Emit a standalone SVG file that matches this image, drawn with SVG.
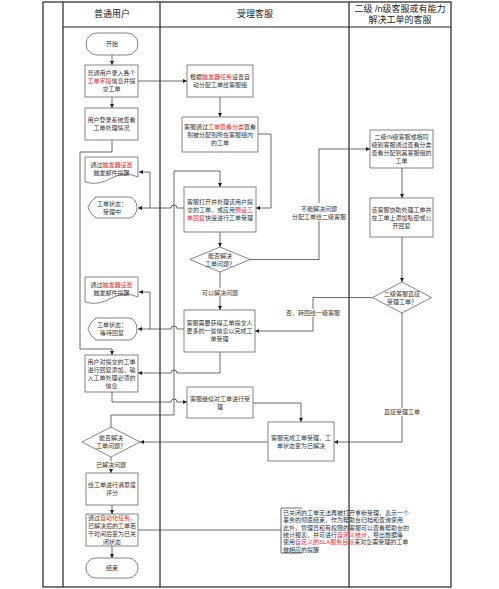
<svg xmlns="http://www.w3.org/2000/svg" width="499" height="589" viewBox="0 0 499 589">
<defs>
<marker id="arr" markerUnits="userSpaceOnUse" markerWidth="5" markerHeight="5" refX="4" refY="2" orient="auto">
<path d="M0,0 L4,2 L0,4 Z" fill="#222"/>
</marker>
<style>
text{font-family:"Liberation Sans","Noto Sans CJK SC",sans-serif;fill:#333;font-size:6px;text-anchor:middle}
.hd{font-size:9px;fill:#222}
.red{fill:#e8262b}
.shape{fill:#fff;stroke:#666;stroke-width:0.8}
.lane{fill:none;stroke:#222;stroke-width:1.2}
.c{fill:none;stroke:#444;stroke-width:0.8}
.ca{fill:none;stroke:#444;stroke-width:0.8;marker-end:url(#arr)}
.lbl{fill:#fff;stroke:none}
.ann{text-anchor:start}
</style>
</defs>
<rect x="0" y="0" width="499" height="589" fill="#fff"/>
<g id="lanes">
<rect class="lane" x="43" y="2" width="408" height="585"/>
<line class="lane" x1="63" y1="2" x2="63" y2="587"/>
<line class="lane" x1="160" y1="2" x2="160" y2="587"/>
<line class="lane" x1="349" y1="2" x2="349" y2="587"/>
<line class="lane" x1="63" y1="27" x2="451" y2="27"/>
<text class="hd" x="112" y="17">普通用户</text>
<text class="hd" x="255" y="17">受理客服</text>
<text class="hd" x="400" y="12">二级 /n级客服或有能力</text>
<text class="hd" x="400" y="23">解决工单的客服</text>
</g>
<g id="connectors">
<path class="ca" d="M112,55 V65"/>
<path class="ca" d="M112,97 V108"/>
<path class="ca" d="M138,81 H187"/>
<path class="ca" d="M220,97 V117"/>
<path class="ca" d="M258,134 H271 V208 H256"/>
<path class="ca" d="M184,208 H177 A3,3 0 0 0 171,208 H138"/>
<path class="ca" d="M150,208 V172 H139"/>
<path class="ca" d="M220,232 V247"/>
<path class="ca" d="M250,259.5 H319 V149 H370"/>
<path class="ca" d="M220,272 V310"/>
<path class="ca" d="M402,168 V198"/>
<path class="ca" d="M402,237 V282"/>
<path class="ca" d="M372.5,297.5 H313 V331 H255"/>
<path class="ca" d="M402,313 V442 H334"/>
<path class="ca" d="M184,329 H177 A3,3 0 0 0 171,329 H138"/>
<path class="ca" d="M150,329 V292 H139"/>
<path class="ca" d="M220,352 V373 H177 A3,3 0 0 0 171,373 H138"/>
<path class="ca" d="M112,140 V152 H80 V349 H112 V355"/>
<path class="ca" d="M112,392 V402 H171 A3,3 0 0 1 177,402 H187"/>
<path class="ca" d="M253,403 H301 V422"/>
<path class="ca" d="M268,442 H140"/>
<path class="ca" d="M111,427 V415 H174 V171 H220 V187"/>
<path class="ca" d="M111,457 V473"/>
<path class="ca" d="M112,505 V514"/>
<path class="ca" d="M112,546 V558"/>
<path class="c" d="M138,530 H281"/>
<rect class="lbl" x="290" y="203" width="58" height="18"/>
<text x="319" y="211">不能解决问题</text>
<text x="319" y="219">分配工单给二级客服</text>
<rect class="lbl" x="200" y="288" width="40" height="8"/>
<text x="220" y="295">可以解决问题</text>
<rect class="lbl" x="285" y="309" width="56" height="8"/>
<text x="313" y="315">否，转回给一级客服</text>
<rect class="lbl" x="383" y="408" width="38" height="8"/>
<text x="402" y="414">直接受理工单</text>
<rect class="lbl" x="95" y="461" width="32" height="8"/>
<text x="111" y="467">已解决问题</text>
</g>
<g id="start">
<rect class="shape" x="86" y="33" width="52" height="22" rx="11"/>
<text x="112" y="46">开始</text>
</g>
<g id="submit">
<rect class="shape" x="85" y="65" width="53" height="32"/>
<text x="111.5" y="75">普通用户录入各个</text>
<text x="111.5" y="83"><tspan class="red">工单字段</tspan>信息并提</text>
<text x="111.5" y="91">交工单</text>
</g>
<g id="view">
<rect class="shape" x="85" y="108" width="53" height="32"/>
<text x="111.5" y="122">用户登录系统查看</text>
<text x="111.5" y="130">工单处理情况</text>
</g>
<g id="assign">
<rect class="shape" x="187" y="65" width="66" height="32"/>
<text x="220" y="79">根据<tspan class="red">触发器任务</tspan>设置自</text>
<text x="220" y="87">动分配工单给客服组</text>
</g>
<g id="classify">
<rect class="shape" x="182" y="117" width="76" height="35"/>
<text x="220" y="128.5">客服通过<tspan class="red">工单查看分类</tspan>查看</text>
<text x="220" y="136.5">到被分配到所在客服组内</text>
<text x="220" y="144.5">的工单</text>
</g>
<g id="mail1">
<path class="shape" d="M85,157 H138 V177 Q125,171 111.5,178 Q98,186 85,182 Z"/>
<text x="111.5" y="167">通过<tspan class="red">触发器设置</tspan></text>
<text x="111.5" y="175">触发邮件提醒</text>
</g>
<g id="status1">
<path class="shape" d="M96,197 H129 A8,10.5 0 0 1 129,218 H96 Q90,214 88,207.5 Q90,201 96,197 Z"/>
<text x="112" y="206">工单状态：</text>
<text x="112" y="214">受理中</text>
</g>
<g id="handle">
<rect class="shape" x="184" y="187" width="72" height="45"/>
<text x="220" y="203.5">客服打开并处理该用户提</text>
<text x="220" y="211.5">交的工单，或应用<tspan class="red">预设工</tspan></text>
<text x="220" y="219.5"><tspan class="red">单回复</tspan>快速进行工单受理</text>
</g>
<g id="decide1">
<path class="shape" d="M220,247 L250,259.5 L220,272 L190,259.5 Z"/>
<text x="220" y="258">能否解决</text>
<text x="220" y="266">工单问题？</text>
</g>
<g id="level2">
<rect class="shape" x="370" y="130" width="63" height="38"/>
<text x="401.5" y="139">二级/N级客服或相同</text>
<text x="401.5" y="147">级别客服通过查看分类</text>
<text x="401.5" y="155">查看分配到其客服组的</text>
<text x="401.5" y="163">工单</text>
</g>
<g id="assist">
<rect class="shape" x="370" y="198" width="63" height="39"/>
<text x="401.5" y="211.5">该客服协助处理工单并</text>
<text x="401.5" y="219.5">在工单上添加私密或公</text>
<text x="401.5" y="227.5">开回复</text>
</g>
<g id="decide2">
<path class="shape" d="M402,282 L431.5,297.5 L402,313 L372.5,297.5 Z"/>
<text x="402" y="296">二级客服直接</text>
<text x="402" y="304">受理工单？</text>
</g>
<g id="moreinfo">
<rect class="shape" x="184" y="310" width="71" height="42"/>
<text x="219.5" y="325">客服需要获得工单提交人</text>
<text x="219.5" y="333">更多的一些信息以完成工</text>
<text x="219.5" y="341">单受理</text>
</g>
<g id="mail2">
<path class="shape" d="M85,277 H138 V297 Q125,291 111.5,298 Q98,306 85,302 Z"/>
<text x="111.5" y="287">通过<tspan class="red">触发器设置</tspan></text>
<text x="111.5" y="295">触发邮件提醒</text>
</g>
<g id="status2">
<path class="shape" d="M96,318 H129 A8,11 0 0 1 129,340 H96 Q90,336 88,329 Q90,322 96,318 Z"/>
<text x="112" y="327">工单状态：</text>
<text x="112" y="335">等待回复</text>
</g>
<g id="reply">
<rect class="shape" x="85" y="355" width="53" height="37"/>
<text x="111.5" y="364">用户对提交的工单</text>
<text x="111.5" y="372">进行回复添加，输</text>
<text x="111.5" y="380">入工单处理必须的</text>
<text x="111.5" y="388">信息</text>
</g>
<g id="continue">
<rect class="shape" x="187" y="387" width="66" height="31"/>
<text x="220" y="400.5">客服继续对工单进行受</text>
<text x="220" y="408.5">理</text>
</g>
<g id="resolved">
<rect class="shape" x="268" y="422" width="66" height="39"/>
<text x="301" y="439.5">客服完成工单受理，工</text>
<text x="301" y="447.5">单状态变为已解决</text>
</g>
<g id="decide3">
<path class="shape" d="M111,427 L140,442 L111,457 L82,442 Z"/>
<text x="111" y="440">能否解决</text>
<text x="111" y="448">工单问题？</text>
</g>
<g id="rate">
<rect class="shape" x="86" y="473" width="52" height="32"/>
<text x="112" y="487">给工单进行满意度</text>
<text x="112" y="495">评分</text>
</g>
<g id="close">
<rect class="shape" x="86" y="514" width="52" height="32"/>
<text x="112" y="520">通过<tspan class="red">自动化任务</tspan>，</text>
<text x="112" y="528">已解决后的工单若</text>
<text x="112" y="536">干时间后变为已关</text>
<text x="112" y="544">闭状态</text>
</g>
<g id="end">
<rect class="shape" x="86" y="558" width="52" height="20" rx="10"/>
<text x="112" y="570">结束</text>
</g>
<g id="note">
<path class="c" d="M302,508 H281 V553 H302"/>
<text class="ann" x="283" y="515">已关闭的工单无法再被打开重新受理，表示一个</text>
<text class="ann" x="283" y="522.3">事务的彻底结束，作为帮助台归档和查询使用</text>
<text class="ann" x="283" y="529.6">此外，管理员和有权限的客服可以查看帮助台的</text>
<text class="ann" x="283" y="536.9">统计报表，并可进行<tspan class="red">自定义统计</tspan>，导出数据等</text>
<text class="ann" x="283" y="544.2">使用<tspan class="red">自定义的SLA服务目标</tspan>来对急需受理的工单</text>
<text class="ann" x="283" y="551.5">做相应的提醒</text>
</g>
</svg>
